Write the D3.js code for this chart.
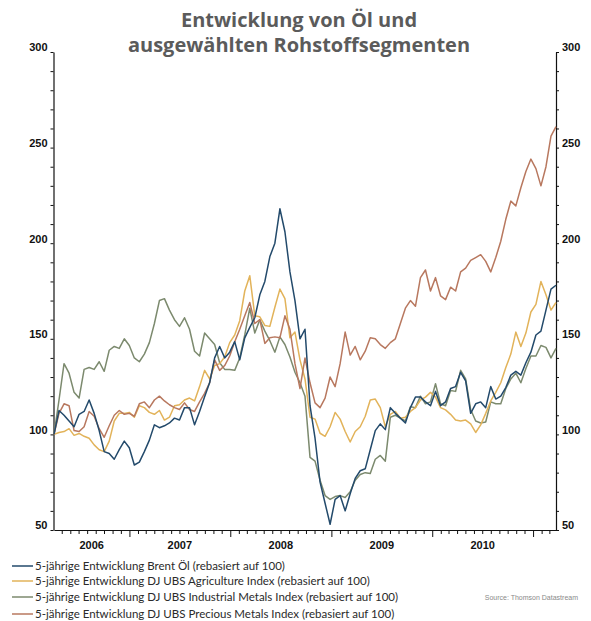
<!DOCTYPE html>
<html>
<head>
<meta charset="utf-8">
<script src="https://cdn.jsdelivr.net/npm/d3@7"></script>
<style>
  body { margin: 0; background: #fff; }
</style>
</head>
<body>
<div id="chart"></div>
<script>
// chart size
var svgwdth = 591;
var svghght = 621;

// data: samples evenly spaced between first and last date
var startDate = "2006-04-03";
var endDate = "2011-03-25";

var brent = [100,112.5,110,107,104,110.5,112,118,111,102,91,90,87,92,96.5,93,84,85.5,91,97,
  105,103.5,104.5,106,108.5,107.5,114,114,105,112,119.7,127,140,146,140,143,148.5,139,150.5,156,
  161,173,180,193,200,218,206,185,170,150,155,115,98,75,64,53,66,68,60,69,
  77,81,82,92,102,105.5,102.5,114,111,108.5,106,114,119.5,119.5,117,115,122.5,115,117,124,
  125,132.5,128,111,116,117,114,125,118.5,120,124.5,131,133,131,137.5,143,152,154,165,176,178];

var agri = [100,101,101.5,103,99.5,100.5,99,98,94.5,92,91,96.5,107,111,111,111.5,109,115,114,111.5,
  110.5,112.5,107.5,109,115,115.5,118,119,117.5,125,133.5,129,136,137,140.5,148,152,159.5,175,183,
  162,161.5,157,156.5,166.5,176,171,150.5,153.5,139,129,109,108,100.6,99,104,111.5,108,101.5,96,
  101.5,104,109.5,118,118.5,114,104,110.5,112,108.5,109,112,114,118,119.5,122,119.5,114,112.8,110.5,
  107.5,107,107.5,105.5,101,105,111,117.5,122,127,135,142,153.5,146,153,164,168,180,173,165,169];

var indMetals = [100,118,137,132,122,119,134,135,134,138,133,144,146,145,150,146.5,140,138,142,148,
  158,170,171,165,160,156.5,161,155,143.5,141,153,150,147,137.5,134,134,133.5,140,152,166,
  153,160,154,149,143,151,147,140.5,132.5,127,120,88,86,76,68,66,67.5,68,67,70,
  76,79,80,79.5,87,89,86,109,110,108.5,107,114.5,114,120,116,117,126.5,116,115,123,
  122.5,133.5,129,113,107,106,106.5,117,116,116,124,129,132,127,134.5,141,141,146.5,145.5,140,145];

var precMetals = [100,111,116,115,102,101.5,104,112,109.5,103,98.5,104.5,110,112.5,110.5,111,109.5,116,117,114,
  118,120,117.5,115.5,114,113,116.5,113,112,117,121.5,127,139,133.5,136,141,148.5,155,162,169,
  158,160,147.6,150.5,151,150.5,162,155,137,124,140,127,116.5,114,119,130,125,137,153.5,141.5,
  146,139,143.5,150.5,150,147,145,148,150,158,166,170,167,182,186,175,182,172.5,170.5,177,
  175,185,187,191,192.5,194,190.5,185,192.5,201,212.5,222,219.5,229,237.5,244,239,230,240,256,261];

var seriesNames = [
  "5-jährige Entwicklung Brent Öl (rebasiert auf 100)",
  "5-jährige Entwicklung DJ UBS Agriculture Index (rebasiert auf 100)",
  "5-jährige Entwicklung DJ UBS Industrial Metals Index (rebasiert auf 100)",
  "5-jährige Entwicklung DJ UBS Precious Metals Index (rebasiert auf 100)"
];
var seriesColors = ["#234a6b", "#e2b35a", "#7c8a6e", "#b8785f"];
var yLabels = [50, 100, 150, 200, 250, 300];
var years = [2006, 2007, 2008, 2009, 2010];

var svg = d3.select("#chart")
  .append("svg")
  .attr("width", svgwdth)
  .attr("height", svghght);

//title
var title = svg.append("text")
  .attr("text-anchor", "middle")
  .style("font-family", "'Open Sans', sans-serif")
  .style("font-weight", "bold")
  .style("font-size", "20px")
  .attr("fill", "#5b5b5b");
title.append("tspan").attr("x", 299).attr("y", 27).text("Entwicklung von Öl und");
title.append("tspan").attr("x", 299).attr("y", 52).text("ausgewählten Rohstoffsegmenten");

// scales
var parse = d3.timeParse("%Y-%m-%d");
var t0 = parse(startDate), t1 = parse(endDate);
var n = brent.length;
var dates = d3.range(n).map(i => new Date(+t0 + i * (t1 - t0) / (n - 1)));

var xScale = d3.scaleTime().domain([t0, t1]).range([54, 556]);
var yScale = d3.scaleLinear().domain([50, 300]).range([530, 52]);

// y axes (left and right)
var leftAxis = d3.axisLeft(yScale)
  .tickValues(d3.range(50, 301, 10))
  .tickSize(3)
  .tickSizeOuter(0)
  .tickFormat(d => yLabels.indexOf(d) >= 0 ? d : "");
var rightAxis = d3.axisRight(yScale)
  .tickValues(d3.range(50, 301, 10))
  .tickSize(3)
  .tickSizeOuter(0)
  .tickFormat(d => yLabels.indexOf(d) >= 0 ? d : "");

var gl = svg.append("g").attr("transform", "translate(53.5,0)").call(leftAxis);
var gr = svg.append("g").attr("transform", "translate(556,0)").call(rightAxis);
[gl, gr].forEach(g => {
  g.selectAll("path.domain").attr("stroke", "#111").attr("stroke-width", 1.2);
  g.selectAll(".tick line").attr("stroke", "#111");
  g.selectAll(".tick text")
    .attr("dy", "-0.1em")
    .style("font-family", "'Liberation Sans', Arial, sans-serif")
    .style("font-weight", "bold")
    .style("font-size", "11px")
    .attr("fill", "#111");
});
gl.selectAll(".tick text").attr("x", -6);
gr.selectAll(".tick text").attr("x", 6);

// x axis, monthly ticks, longer at january
var bottomAxis = d3.axisBottom(xScale)
  .ticks(d3.timeMonth.every(1))
  .tickSize(4)
  .tickSizeOuter(0)
  .tickFormat("");
var gx = svg.append("g").attr("transform", "translate(0,530)").call(bottomAxis);
gx.selectAll("path.domain").attr("stroke", "#111").attr("stroke-width", 1.2);
gx.selectAll(".tick line")
  .attr("stroke", "#111")
  .attr("y2", d => d.getMonth() === 0 ? 7 : 4);

years.forEach(yr => {
  var a = Math.max(+t0, +new Date(yr, 0, 1));
  var b = Math.min(+t1, +new Date(yr + 1, 0, 1));
  svg.append("text")
    .attr("x", (xScale(a) + xScale(b)) / 2)
    .attr("y", 549)
    .attr("text-anchor", "middle")
    .style("font-family", "'Liberation Sans', Arial, sans-serif")
    .style("font-weight", "bold")
    .style("font-size", "11px")
    .attr("fill", "#111")
    .text(yr);
});

// lines
var line = d3.line()
  .x((d, i) => xScale(dates[i]))
  .y(d => yScale(d));

var allSeries = [brent, agri, indMetals, precMetals];
[2, 1, 3, 0].forEach(k => {
  svg.append("path")
    .datum(allSeries[k])
    .attr("d", line)
    .attr("fill", "none")
    .attr("stroke", seriesColors[k])
    .attr("stroke-width", 1.5)
    .attr("stroke-linejoin", "round");
});

// legend
var legendY = [566, 581, 597, 614];
seriesNames.forEach((s, i) => {
  svg.append("line")
    .attr("x1", 12).attr("x2", 33)
    .attr("y1", legendY[i]).attr("y2", legendY[i])
    .attr("stroke", seriesColors[i])
    .attr("stroke-width", 1.5);
  svg.append("text")
    .attr("x", 35)
    .attr("y", legendY[i] + 4)
    .style("font-family", "Lato, sans-serif")
    .style("font-size", "11.5px")
    .attr("fill", "#2a2a2a")
    .text(s);
});

svg.append("text")
  .attr("x", 578)
  .attr("y", 600)
  .attr("text-anchor", "end")
  .style("font-family", "'Liberation Sans', Arial, sans-serif")
  .style("font-size", "7px")
  .attr("fill", "#8a8a8a")
  .text("Source: Thomson Datastream");
</script>
</body>
</html>
